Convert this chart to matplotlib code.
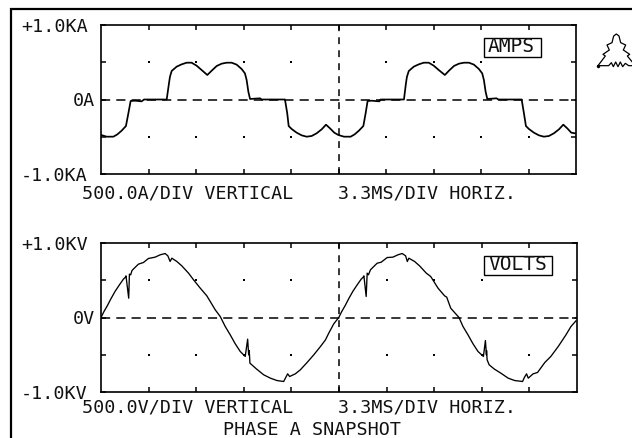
import numpy as np
import matplotlib
matplotlib.use('Agg')
import matplotlib.pyplot as plt
from matplotlib.transforms import ScaledTranslation
from matplotlib.patches import Rectangle

plt.rcParams['font.family'] = ['DejaVu Sans Mono']

# time in ms, current in A
amps_t = [0, 0.40, 0.87, 1.15, 1.45, 1.75, 1.92, 2.08, 2.39, 2.85, 3.02, 4.61, 4.77, 4.84, 4.96, 5.31, 5.66, 6.01,
          6.36, 6.71, 7.06, 7.46, 7.77, 8.12, 8.47, 8.82, 9.17, 9.52, 9.87, 10.1, 10.22, 10.34, 10.46, 11.16,
          11.27, 12.91, 13.07, 13.17, 13.38, 13.73, 14.08, 14.43, 14.78, 15.13, 15.49, 15.79, 16.07, 16.37, 16.65,
          17.05, 17.52, 17.80, 18.10, 18.41, 18.57, 18.71, 19.0, 19.53, 19.62, 21.26, 21.40, 21.47, 21.6, 21.95,
          22.3, 22.65, 23.0, 23.35, 23.7, 24.13, 24.42, 24.77, 25.12, 25.47, 25.82, 26.17, 26.52, 26.75, 26.87,
          26.99, 27.11, 27.76, 27.88, 29.52, 29.68, 29.82, 30.03, 30.38, 30.73, 31.08, 31.43, 31.78, 32.14, 32.44,
          32.72, 33.0, 33.26]
amps_v = [-476, -499, -499, -468, -418, -356, -186, -20, -16, -25, 0, 0, 217, 306, 383, 441, 472, 494,
          494, 454, 396, 329, 387, 450, 481, 494, 494, 468, 409, 351, 262, 105, 7, 16,
          0, 0, -186, -356, -396, -445, -481, -499, -490, -454, -400, -338, -387, -445, -476,
          -499, -499, -468, -418, -356, -186, -20, -16, -25, 0, 0, 217, 306, 383, 441,
          472, 494, 494, 454, 396, 329, 387, 450, 481, 494, 494, 468, 409, 351, 262,
          105, 7, 16, 0, 0, -186, -356, -396, -445, -481, -499, -490, -454, -400, -338,
          -387, -445, -454]

# time in ms, voltage in V
volts_t = [0, 0.21, 0.44, 0.68, 0.98, 1.29, 1.57, 1.71, 1.75, 1.94, 1.99, 2.08, 2.17, 2.38, 2.62, 2.97, 3.32, 3.79,
           4.14, 4.49, 4.68, 4.84, 4.96, 5.31, 5.66, 6.13, 6.48, 6.95, 7.41, 7.65, 8.0, 8.35, 8.70, 9.05, 9.4,
           9.75, 10.1, 10.27, 10.34, 10.38, 10.43, 10.9, 11.39, 11.86, 12.32, 12.79, 12.95, 13.07, 13.21, 13.61,
           13.96, 14.43, 14.9, 15.37, 15.72, 15.95, 16.3, 16.65,
           16.86, 17.09, 17.33, 17.63, 17.94, 18.22, 18.36, 18.41, 18.57, 18.64, 18.73, 18.87, 19.03, 19.34, 19.62,
           20.04, 20.44, 20.79, 21.09, 21.33, 21.45, 21.56, 21.96, 22.31, 22.78, 23.09, 23.6, 24.06, 24.21, 24.49,
           25.07, 25.35, 25.7, 26.05, 26.4, 26.78, 26.92, 26.99, 27.0, 27.04, 27.18, 27.55, 28.0, 28.51, 28.97,
           29.52, 29.66, 29.8, 29.92, 30.26, 30.57, 31.08, 31.5, 32.02, 32.56, 32.91, 33.26]
volts_v = [0, 81, 157, 246, 349, 438, 515, 541, 559, 259, 582, 573, 631, 671, 716, 738, 792, 810,
           841, 859, 828, 752, 796, 752, 693, 595, 506, 394, 291, 215, 103, 13, -121, -233, -353,
           -456, -523, -291, -501, -443, -613, -693, -769, -814, -846, -859, -801, -756, -792, -756,
           -702, -604, -501, -389, -300, -210, -85, 0,
           81, 157, 246, 349, 438, 515, 541, 559, 282, 595, 573, 640, 671, 729, 742,
           805, 810, 841, 859, 828, 752, 796, 752, 693, 595, 550, 394, 291, 273, 125,
           0, -121, -233, -353, -456, -523, -309, -501, -443, -568, -635, -693, -747, -814, -846,
           -859, -801, -756, -814, -756, -738, -604, -523, -389, -233, -121, -45]

y_levels = [-1000, -500, 0, 500, 1000]
div_ms = 10 / 3
W, H = 632, 438
FS = 13.2


def px_text(x, y, s, size=FS, **kw):
    fig.text(x / W, 1 - y / H, s, fontsize=size, va='center', color='#111111', **kw)


def panel(left, right, top, bottom, t, v, labels, lw):
    ax = fig.add_axes([left / W, 1 - bottom / H, (right - left) / W, (bottom - top) / H])
    ax.plot(t, v, color='k', lw=lw, zorder=3)
    ax.axhline(0, color='k', lw=1.1, ls=(0, (6, 4)))
    ax.axvline(5 * div_ms, color='k', lw=1.1, ls=(0, (4.5, 4)))
    for i in range(1, 10):
        for y in (-500, 500):
            if i == 5 or (i == 9 and y == 500):
                continue
            ax.plot(i * div_ms, y, 's', color='k', ms=1.8, mew=0)
    ax.set_xlim(0, 10 * div_ms)
    ax.set_ylim(-1000, 1000)
    ax.set_xticks([i * div_ms for i in range(1, 10)])
    ax.set_xticklabels([])
    ax.set_yticks(y_levels)
    ax.set_yticklabels(labels, fontsize=FS, color='#111111')
    ax.tick_params(axis='both', direction='in', length=3.6, width=1.1, top=True, right=True)
    ax.tick_params(axis='y', pad=9.4)
    # the zero label sits closer to the frame than the other two
    zero = ax.get_yticklabels()[2]
    zero.set_transform(zero.get_transform() + ScaledTranslation(7 / 100, 0, fig.dpi_scale_trans))
    for sp in ax.spines.values():
        sp.set_linewidth(1.2)
    return ax


fig = plt.figure(figsize=(W / 100, H / 100), dpi=100)

panel(101, 576, 25, 174, amps_t, amps_v, ['-1.0KA', '', '0A', '', '+1.0KA'], 1.25)
panel(101, 577, 243, 392, volts_t, volts_v, ['-1.0KV', '', '0V', '', '+1.0KV'], 0.95)

px_text(82, 193, '500.0A/DIV VERTICAL')
px_text(338, 193, '3.3MS/DIV HORIZ.')
px_text(82, 408, '500.0V/DIV VERTICAL')
px_text(338, 408, '3.3MS/DIV HORIZ.')
px_text(223, 430, 'PHASE A SNAPSHOT')
px_text(488, 47, 'AMPS', size=14)
px_text(488, 265, 'VOLTS', size=14)

# overlay in pixel coordinates for the page border, legend boxes and wiring symbol
over = fig.add_axes([0, 0, 1, 1], facecolor='none')
over.set_xlim(0, W)
over.set_ylim(H, 0)
over.axis('off')
over.plot([11, 11, W], [H, 9, 9], color='k', lw=1.6, solid_joinstyle='miter')
over.add_patch(Rectangle((484, 38), 57, 19, fill=False, ec='k', lw=1.0))
over.add_patch(Rectangle((484, 256), 68, 19, fill=False, ec='k', lw=1.0))

icon_x = [78, 100, 93, 112, 105, 120, 125, 133, 141, 146, 161, 154, 173, 166, 180]
icon_y = [137, 108, 103, 90, 75, 68, 48, 42, 48, 68, 75, 90, 103, 108, 125]
base_x = [78, 110, 118, 124, 131, 138, 145, 152, 160, 170, 180]
base_y = [137, 137, 128, 140, 126, 140, 126, 140, 130, 137, 137]
over.plot(572 + np.array(icon_x) / 3, 20 + np.array(icon_y) / 3, color='k', lw=0.9)
over.plot(572 + np.array(base_x) / 3, 20 + np.array(base_y) / 3, color='k', lw=0.9)
over.plot(598, 66, 'o', color='k', ms=2.5, mew=0)

fig.savefig('out.png', dpi=100)
